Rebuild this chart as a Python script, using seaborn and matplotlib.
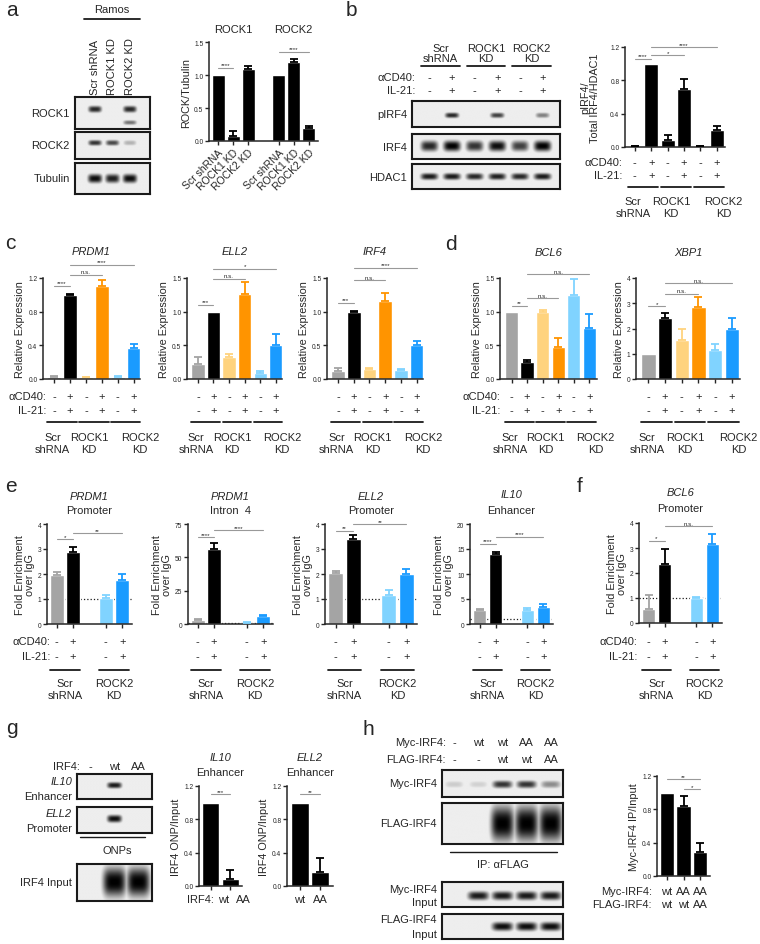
import numpy as np
import pandas as pd
import matplotlib
matplotlib.use("Agg")
import matplotlib.pyplot as plt
import matplotlib.transforms as mtransforms
import seaborn as sns

W, H = 760, 945

GREY = "#a4a4a4"
BLACK = "#000000"
LT_ORANGE = "#ffd37e"
ORANGE = "#ff9400"
LT_BLUE = "#80d3ff"
BLUE = "#1a9bff"

# ---------------- data ----------------
# a: ROCK / Tubulin
a_names = ["R1 Scr", "R1 ROCK1", "R1 ROCK2", "R2 Scr", "R2 ROCK1", "R2 ROCK2"]
a_ticklabels = ["Scr shRNA", "ROCK1 KD", "ROCK2 KD", "Scr shRNA", "ROCK1 KD", "ROCK2 KD"]
a_values = [1.0, 0.08, 1.09, 1.0, 1.19, 0.20]
a_errors = [0.0, 0.07, 0.04, 0.0, 0.06, 0.03]
a_lanes = ["Scr shRNA", "ROCK1 KD", "ROCK2 KD"]
a_blot_rock1 = [0.85, 0.04, 0.85]
a_blot_rock1_low = [0.0, 0.0, 0.55]
a_blot_rock2 = [0.80, 0.72, 0.30]
a_blot_tubulin = [0.95, 0.88, 0.95]

# six-condition panels (b, c, d)
six_names = ["Scr -", "Scr +", "ROCK1 -", "ROCK1 +", "ROCK2 -", "ROCK2 +"]
six_cd40 = ["-", "+", "-", "+", "-", "+"]
six_il21 = ["-", "+", "-", "+", "-", "+"]
six_groups = ["Scr\nshRNA", "ROCK1\nKD", "ROCK2\nKD"]
six_colors = [GREY, BLACK, LT_ORANGE, ORANGE, LT_BLUE, BLUE]

b_values = [0.01, 1.0, 0.08, 0.70, 0.01, 0.20]
b_errors = [0.005, 0.0, 0.07, 0.12, 0.005, 0.05]
b_blot_pirf4 = [0.03, 0.85, 0.03, 0.75, 0.03, 0.50]
b_blot_irf4 = [0.85, 1.0, 0.80, 0.95, 0.75, 1.0]
b_blot_hdac1 = [0.90, 0.90, 0.85, 0.88, 0.85, 0.90]

prdm1_values = [0.02, 1.0, 0.02, 1.10, 0.02, 0.37]
prdm1_errors = [0.01, 0.005, 0.005, 0.08, 0.02, 0.05]
ell2_values = [0.23, 1.0, 0.32, 1.26, 0.09, 0.50]
ell2_errors = [0.10, 0.0, 0.05, 0.18, 0.03, 0.17]
irf4_values = [0.12, 1.0, 0.15, 1.16, 0.13, 0.50]
irf4_errors = [0.05, 0.005, 0.02, 0.11, 0.02, 0.07]
bcl6_values = [1.0, 0.25, 1.0, 0.47, 1.25, 0.76]
bcl6_errors = [0.0, 0.03, 0.03, 0.14, 0.24, 0.21]
xbp1_values = [1.0, 2.40, 1.55, 2.85, 1.13, 2.0]
xbp1_errors = [0.0, 0.22, 0.45, 0.40, 0.25, 0.42]

# four-condition ChIP panels (e, f)
four_names = ["Scr -", "Scr +", "ROCK2 -", "ROCK2 +"]
four_cd40 = ["-", "+", "-", "+"]
four_il21 = ["-", "+", "-", "+"]
four_groups = ["Scr\nshRNA", "ROCK2\nKD"]
four_colors = [GREY, BLACK, LT_BLUE, BLUE]

prdm1_prom_values = [1.95, 2.90, 1.05, 1.75]
prdm1_prom_errors = [0.12, 0.20, 0.10, 0.25]
prdm1_intron_values = [3.0, 56.0, 1.0, 6.0]
prdm1_intron_errors = [1.0, 5.0, 0.3, 0.8]
ell2_prom_values = [2.05, 3.40, 1.15, 2.0]
ell2_prom_errors = [0.07, 0.17, 0.20, 0.22]
il10_enh_values = [2.8, 14.0, 2.8, 3.4]
il10_enh_errors = [0.3, 0.5, 0.4, 0.6]
bcl6_prom_values = [0.57, 2.35, 1.0, 3.18]
bcl6_prom_errors = [0.57, 0.63, 0.03, 0.37]

# g: oligo pulldown
g_lanes = ["-", "wt", "AA"]
g_names = ["wt", "AA"]
g_il10_values = [1.0, 0.09]
g_il10_errors = [0.0, 0.10]
g_ell2_values = [1.0, 0.17]
g_ell2_errors = [0.0, 0.17]
g_blot_il10 = [0.0, 0.90, 0.0]
g_blot_ell2 = [0.0, 0.95, 0.0]
g_blot_input = [0.0, 1.0, 1.0]

# h: co-IP
h_lane_myc = ["-", "wt", "wt", "AA", "AA"]
h_lane_flag = ["-", "-", "wt", "wt", "AA"]
h_names = ["wt/wt", "AA/wt", "AA/AA"]
h_myc = ["wt", "AA", "AA"]
h_flag = ["wt", "wt", "AA"]
h_values = [1.0, 0.84, 0.29]
h_errors = [0.0, 0.12, 0.11]
h_blot_myc_ip = [0.20, 0.18, 0.80, 0.80, 0.45]
h_blot_flag_ip = [0.0, 0.0, 1.0, 1.0, 1.0]
h_blot_myc_input = [0.0, 0.90, 0.90, 0.90, 0.90]
h_blot_flag_input = [0.0, 0.0, 0.95, 0.95, 0.95]

# ---------------- style ----------------
sns.set_theme(style="ticks")
plt.rcParams["font.family"] = ["Liberation Sans", "DejaVu Sans"]

fig = plt.figure(figsize=(W / 100, H / 100), dpi=100)


def fx(px):
    return px / W


def fy(py):
    return 1 - py / H


def add_ax(x0, y0, x1, y1):
    return fig.add_axes([fx(x0), fy(y1), (x1 - x0) / W, (y1 - y0) / H])


def ftext(x, y, s, **kw):
    kw.setdefault("fontsize", 8)
    kw.setdefault("va", "center")
    fig.text(fx(x), fy(y), s, **kw)


def bar_panel(box, names, values, errors, colors, order, ylim, yticks, ylabels, xlim, ylabel,
              labelpad=2):
    ax = add_ax(*box)
    df = pd.DataFrame({"cond": names, "value": values})
    sns.barplot(data=df, x="cond", y="value", hue="cond", order=order, hue_order=names,
                palette=colors, saturation=1, width=0.86, errorbar=None, legend=False, ax=ax)
    pos = [order.index(n) for n in names]
    for p, v, e, c in zip(pos, values, errors, colors):
        if e > 0:
            ax.errorbar(p, v, yerr=[[0], [e]], fmt="none", ecolor=c, elinewidth=1.3,
                        capsize=2.6, capthick=1.3, zorder=4)
    ax.set_ylim(*ylim)
    ax.set_yticks(yticks, ylabels)
    ax.set_xticks(pos, [""] * len(pos))
    ax.set_xlim(*xlim)
    ax.set_xlabel("")
    ax.set_ylabel(ylabel, fontsize=7.8, labelpad=labelpad, linespacing=1.0)
    ax.tick_params(axis="both", labelsize=4.8, length=3, width=1, pad=1)
    for s in ["top", "right"]:
        ax.spines[s].set_visible(False)
    for s in ["left", "bottom"]:
        ax.spines[s].set_linewidth(1.1)
    return ax, pos


def sig(ax, x0, x1, y, label):
    ax.plot([x0, x1], [y, y], color="0.6", lw=0.8, clip_on=False, zorder=5)
    ax.annotate(label, ((x0 + x1) / 2, y), xytext=(0, 0.3), textcoords="offset points",
                ha="center", va="bottom", fontsize=4.5, annotation_clip=False)


def cond_rows(ax, pos, rows, ys, label_x=None, shift=0.0):
    tr = mtransforms.blended_transform_factory(ax.transData, fig.transFigure)
    for (label, signs), y in zip(rows, ys):
        for p, s in zip(pos, signs):
            ax.text(p + shift, fy(y), s, transform=tr, ha="center", va="center", fontsize=8)
        if label_x is not None:
            ftext(label_x, y, label, ha="right")


def group_bars(ax, spans, names, line_y, text_y, offsets):
    tr = mtransforms.blended_transform_factory(ax.transData, fig.transFigure)
    for (p0, p1), nm, off in zip(spans, names, offsets):
        ax.plot([p0 - 0.42, p1 + 0.42], [fy(line_y)] * 2, transform=tr, color="k",
                lw=1.3, clip_on=False)
        ax.text((p0 + p1) / 2 + off, fy(text_y), nm, transform=tr, ha="center", va="center",
                fontsize=8, linespacing=1.15)


def titles(ax, lines):
    tr = mtransforms.blended_transform_factory(ax.transAxes, fig.transFigure)
    for text, y, italic in lines:
        ax.text(0.5, fy(y), text, transform=tr, ha="center", va="center", fontsize=8,
                style="italic" if italic else "normal")


def draw_blot(box, rows, n, inset):
    x0, y0, x1, y1 = box
    ax = add_ax(x0, y0, x1, y1)
    xs = np.linspace(0, 1, 400)
    ys = np.linspace(0, 1, 120)
    X, Y = np.meshgrid(xs, ys)
    img = np.full(X.shape, 0.07)
    lanes = [inset + (1 - 2 * inset) * (i + 0.5) / n for i in range(n)]
    for levels, yc, hh, ww in rows:
        for xc, lv in zip(lanes, levels):
            half = ww * (1 - 2 * inset) / n / 2
            blob = lv * np.exp(-np.abs((X - xc) / half) ** 4) * np.exp(-np.abs((Y - yc) / hh) ** 2.5)
            img = np.maximum(img, blob)
    ax.imshow(img, cmap="gray_r", vmin=0, vmax=1, extent=(0, 1, 0, 1), origin="lower",
              aspect="auto", interpolation="bilinear")
    ax.set_xticks([])
    ax.set_yticks([])
    for s in ax.spines.values():
        s.set_linewidth(1.5)
        s.set_color("k")
    return [x0 + f * (x1 - x0) for f in lanes]


six_order = six_names
four_order = ["Scr -", "Scr +", " ", "ROCK2 -", "ROCK2 +"]
six_spans = [(0, 1), (2, 3), (4, 5)]
four_spans = [(0, 1), (3, 4)]
six_offsets = [-0.6, -0.3, 0.9]
four_offsets = [0.0, 0.0]

# ---------------- panel letters ----------------
for letter, x, y in [("a", 6, 16), ("b", 346, 16), ("c", 5, 249), ("d", 445, 250),
                     ("e", 5, 492), ("f", 577, 492), ("g", 6, 734), ("h", 362, 735)]:
    ftext(x, y, letter, fontsize=15, va="baseline")

# ---------------- a ----------------
ftext(112, 10, "Ramos", ha="center")
fig.add_artist(plt.Line2D([fx(84), fx(140)], [fy(20), fy(20)], color="k", lw=1.3))
lx = draw_blot((75, 98, 150, 130), [(a_blot_rock1, 0.62, 0.1, 0.75), (a_blot_rock1_low, 0.2, 0.07, 0.75)], 3, 0.15)
draw_blot((75, 133, 150, 160), [(a_blot_rock2, 0.6, 0.1, 0.75)], 3, 0.15)
draw_blot((75, 164, 150, 195), [(a_blot_tubulin, 0.5, 0.14, 0.8)], 3, 0.15)
for x, s in zip(lx, a_lanes):
    ftext(x, 95, s, rotation=90, ha="center", va="bottom")
ftext(70, 114, "ROCK1", ha="right")
ftext(70, 146, "ROCK2", ha="right")
ftext(70, 179, "Tubulin", ha="right")

a_order = ["R1 Scr", "R1 ROCK1", "R1 ROCK2", " ", "R2 Scr", "R2 ROCK1", "R2 ROCK2"]
ax, pos = bar_panel((209, 43, 318, 142), a_names, a_values, a_errors, [BLACK] * 6, a_order,
                    (0, 1.5), [0, 0.5, 1.0, 1.5], ["0.0", "0.5", "1.0", "1.5"], (-0.6, 6.6),
                    "ROCK/Tubulin")
ax.set_xticks(pos, a_ticklabels, rotation=45, ha="right", rotation_mode="anchor")
ax.tick_params(axis="x", labelsize=7.5, pad=1)
tr = mtransforms.blended_transform_factory(ax.transData, fig.transFigure)
ax.text(1, fy(30), "ROCK1", transform=tr, ha="center", va="center", fontsize=8)
ax.text(5, fy(30), "ROCK2", transform=tr, ha="center", va="center", fontsize=8)
sig(ax, 0, 1, 1.11, "****")
sig(ax, 4, 6, 1.35, "****")

# ---------------- b ----------------
lx = draw_blot((412, 102, 560, 128), [(b_blot_pirf4, 0.45, 0.1, 0.6)], 6, 0.04)
draw_blot((412, 135, 560, 160), [(b_blot_irf4, 0.5, 0.2, 0.75)], 6, 0.04)
draw_blot((412, 165, 560, 190), [(b_blot_hdac1, 0.5, 0.13, 0.75)], 6, 0.04)
for x, s in zip(lx, six_cd40):
    ftext(x, 78, s, ha="center")
for x, s in zip(lx, six_il21):
    ftext(x, 91, s, ha="center")
ftext(415, 78, "αCD40:", ha="right")
ftext(415, 91, "IL-21:", ha="right")
for i, g in enumerate(six_groups):
    xa, xb = lx[2 * i], lx[2 * i + 1]
    ftext((xa + xb) / 2, 54, g, ha="center", linespacing=1.1)
    fig.add_artist(plt.Line2D([fx(xa - 8), fx(xb + 8)], [fy(67), fy(67)], color="k", lw=1.3))
ftext(407, 115, "pIRF4", ha="right")
ftext(407, 148, "IRF4", ha="right")
ftext(407, 178, "HDAC1", ha="right")

ax, pos = bar_panel((625, 48, 725, 148), six_names, b_values, b_errors, [BLACK] * 6, six_order,
                    (0, 1.2), [0, 0.4, 0.8, 1.2], ["0.0", "0.4", "0.8", "1.2"], (-0.6, 5.5),
                    "pIRF4/\nTotal IRF4/HDAC1", labelpad=7)
cond_rows(ax, pos, [("αCD40:", six_cd40), ("IL-21:", six_il21)], [163, 176], label_x=622)
group_bars(ax, six_spans, six_groups, 188, 208, six_offsets)
sig(ax, 0, 1, 1.06, "****")
sig(ax, 1, 3, 1.1, "*")
sig(ax, 1, 5, 1.2, "****")

# ---------------- c ----------------
c_specs = [
    ((43, 279, 140, 380), "PRDM1", prdm1_values, prdm1_errors, (0, 1.2),
     [0, 0.4, 0.8, 1.2], ["0.0", "0.4", "0.8", "1.2"],
     [(0, 1, 1.11, "****"), (1, 3, 1.24, "n.s."), (1, 5, 1.36, "****")]),
    ((187, 279, 282, 380), "ELL2", ell2_values, ell2_errors, (0, 1.5),
     [0, 0.5, 1.0, 1.5], ["0.0", "0.5", "1.0", "1.5"],
     [(0, 1, 1.1, "***"), (1, 3, 1.49, "n.s."), (1, 5, 1.64, "*")]),
    ((327, 279, 423, 380), "IRF4", irf4_values, irf4_errors, (0, 1.5),
     [0, 0.5, 1.0, 1.5], ["0.0", "0.5", "1.0", "1.5"],
     [(0, 1, 1.13, "***"), (1, 3, 1.47, "n.s."), (1, 5, 1.65, "****")]),
]
for k, (box, name, vals, errs, ylim, yt, ytl, sigs) in enumerate(c_specs):
    ax, pos = bar_panel(box, six_names, vals, errs, six_colors, six_order, ylim, yt, ytl,
                        (-0.7, 5.4), "Relative Expression")
    titles(ax, [(name, 252, True)])
    cond_rows(ax, pos, [("αCD40:", six_cd40), ("IL-21:", six_il21)], [397, 411],
              label_x=46 if k == 0 else None)
    group_bars(ax, six_spans, six_groups, 423, 444, six_offsets)
    for s in sigs:
        sig(ax, *s)

# ---------------- d ----------------
d_specs = [
    ((500, 279, 597, 380), "BCL6", bcl6_values, bcl6_errors, (0, 1.5),
     [0, 0.5, 1.0, 1.5], ["0.0", "0.5", "1.0", "1.5"],
     [(0, 1, 1.09, "**"), (1, 3, 1.2, "n.s."), (1, 5, 1.56, "n.s.")]),
    ((636, 279, 740, 380), "XBP1", xbp1_values, xbp1_errors, (0, 4),
     [0, 1, 2, 3, 4], ["0", "1", "2", "3", "4"],
     [(0, 1, 2.89, "*"), (1, 3, 3.38, "n.s."), (1, 5, 3.8, "n.s.")]),
]
for k, (box, name, vals, errs, ylim, yt, ytl, sigs) in enumerate(d_specs):
    ax, pos = bar_panel(box, six_names, vals, errs, six_colors, six_order, ylim, yt, ytl,
                        (-0.75, 5.5), "Relative Expression")
    titles(ax, [(name, 253, True)])
    cond_rows(ax, pos, [("αCD40:", six_cd40), ("IL-21:", six_il21)], [397, 411],
              label_x=500 if k == 0 else None)
    group_bars(ax, six_spans, six_groups, 423, 444, six_offsets)
    for s in sigs:
        sig(ax, *s)

# ---------------- e / f ----------------
ef_specs = [
    ((47, 525, 132, 625), [("PRDM1", 497, True), ("Promoter", 511, False)],
     prdm1_prom_values, prdm1_prom_errors, (0, 4), [0, 1, 2, 3, 4], ["0", "1", "2", "3", "4"],
     [(0, 1, 3.4, "*"), (1, 4, 3.64, "**")], 50),
    ((188, 525, 273, 625), [("PRDM1", 497, True), ("Intron  4", 511, False)],
     prdm1_intron_values, prdm1_intron_errors, (0, 75), [0, 25, 50, 75], ["0", "25", "50", "75"],
     [(0, 1, 65, "****"), (1, 4, 70.5, "****")], None),
    ((325, 525, 417, 625), [("ELL2", 497, True), ("Promoter", 511, False)],
     ell2_prom_values, ell2_prom_errors, (0, 4), [0, 1, 2, 3, 4], ["0", "1", "2", "3", "4"],
     [(0, 1, 3.73, "**"), (1, 4, 4.0, "**")], None),
    ((470, 525, 553, 625), [("IL10", 495, True), ("Enhancer", 511, False)],
     il10_enh_values, il10_enh_errors, (0, 20), [0, 5, 10, 15, 20], ["0", "5", "10", "15", "20"],
     [(0, 1, 16.1, "****"), (1, 4, 17.5, "****")], None),
    ((639, 524, 722, 624), [("BCL6", 493, True), ("Promoter", 509, False)],
     bcl6_prom_values, bcl6_prom_errors, (0, 4), [0, 1, 2, 3, 4], ["0", "1", "2", "3", "4"],
     [(0, 1, 3.3, "*"), (1, 4, 3.87, "n.s.")], 637),
]
for box, tl, vals, errs, ylim, yt, ytl, sigs, lab_x in ef_specs:
    ax, pos = bar_panel(box, four_names, vals, errs, four_colors, four_order, ylim, yt, ytl,
                        (-0.6, 4.6), "Fold Enrichment\nover IgG")
    ax.axhline(1, ls=":", color="k", lw=0.9, zorder=0)
    titles(ax, tl)
    cond_rows(ax, pos, [("αCD40:", four_cd40), ("IL-21:", four_il21)], [642, 657], label_x=lab_x)
    group_bars(ax, four_spans, four_groups, 671, 690, four_offsets)
    for s in sigs:
        sig(ax, *s)

# ---------------- g ----------------
lx = draw_blot((77, 775, 152, 800), [(g_blot_il10, 0.55, 0.12, 0.6)], 3, 0.02)
draw_blot((77, 808, 152, 834), [(g_blot_ell2, 0.55, 0.14, 0.6)], 3, 0.02)
draw_blot((77, 865, 152, 902), [(g_blot_input, 0.5, 0.38, 0.95)], 3, 0.02)
ftext(80, 767, "IRF4:", ha="right")
for x, s in zip(lx, g_lanes):
    ftext(x, 767, s, ha="center")
ftext(72, 782, "IL10", ha="right", style="italic")
ftext(72, 797, "Enhancer", ha="right")
ftext(72, 814, "ELL2", ha="right", style="italic")
ftext(72, 829, "Promoter", ha="right")
fig.add_artist(plt.Line2D([fx(80), fx(145)], [fy(838), fy(838)], color="k", lw=1.0))
ftext(117, 851, "ONPs", ha="center")
ftext(72, 883, "IRF4 Input", ha="right")

for box, vals, errs, tl, sg, lab in [
    ((199, 787, 242, 887), g_il10_values, g_il10_errors, [("IL10", 758, True), ("Enhancer", 773, False)], "***", True),
    ((287, 787, 333, 887), g_ell2_values, g_ell2_errors, [("ELL2", 758, True), ("Enhancer", 773, False)], "**", False),
]:
    ax, pos = bar_panel(box, g_names, vals, errs, [BLACK] * 2, g_names, (0, 1.2),
                        [0, 0.4, 0.8, 1.2], ["0.0", "0.4", "0.8", "1.2"], (-0.6, 1.6),
                        "IRF4 ONP/Input")
    titles(ax, tl)
    cond_rows(ax, pos, [("IRF4:", g_names)], [900], shift=0.65 if lab else 0.0)
    if lab:
        ftext(214, 900, "IRF4:", ha="right")
    sig(ax, 0, 1, 1.1, sg)

# ---------------- h ----------------
lx = draw_blot((442, 771, 563, 798), [(h_blot_myc_ip, 0.45, 0.13, 0.8)], 5, 0.0)
draw_blot((442, 804, 563, 845), [(h_blot_flag_ip, 0.5, 0.42, 0.95)], 5, 0.0)
draw_blot((442, 883, 563, 908), [(h_blot_myc_input, 0.45, 0.17, 0.85)], 5, 0.0)
draw_blot((442, 915, 563, 940), [(h_blot_flag_input, 0.5, 0.17, 0.85)], 5, 0.0)
ftext(446, 743, "Myc-IRF4:", ha="right")
ftext(446, 760, "FLAG-IRF4:", ha="right")
for x, s1, s2 in zip(lx, h_lane_myc, h_lane_flag):
    ftext(x, 743, s1, ha="center")
    ftext(x, 760, s2, ha="center")
ftext(437, 784, "Myc-IRF4", ha="right")
ftext(437, 824, "FLAG-IRF4", ha="right")
fig.add_artist(plt.Line2D([fx(450), fx(557)], [fy(853), fy(853)], color="k", lw=1.0))
ftext(503, 865, "IP: αFLAG", ha="center")
ftext(437, 890, "Myc-IRF4", ha="right")
ftext(437, 903, "Input", ha="right")
ftext(437, 920, "FLAG-IRF4", ha="right")
ftext(437, 935, "Input", ha="right")

ax, pos = bar_panel((657, 777, 710, 877), h_names, h_values, h_errors, [BLACK] * 3, h_names,
                    (0, 1.2), [0, 0.4, 0.8, 1.2], ["0.0", "0.4", "0.8", "1.2"], (-0.6, 2.6),
                    "Myc-IRF4 IP/Input")
cond_rows(ax, pos, [("Myc-IRF4:", h_myc), ("FLAG-IRF4:", h_flag)], [892, 905], label_x=652)
sig(ax, 0, 2, 1.16, "**")
sig(ax, 1, 2, 1.04, "*")

fig.savefig("out.png", dpi=100)
